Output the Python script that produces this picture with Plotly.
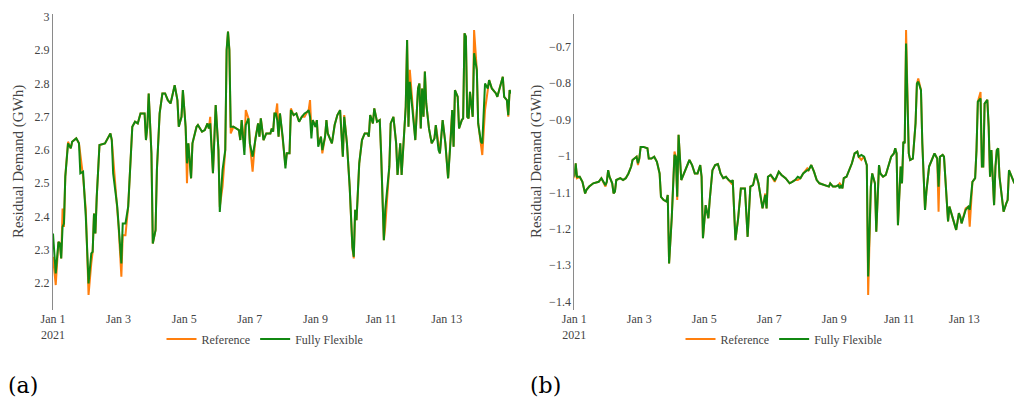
import pandas as pd
import plotly.graph_objects as go

# ---------------- Panel (a) data ----------------
hours_a = [0, 2, 4, 5, 6, 7, 8, 9, 11, 13, 14, 17, 19, 20, 22, 24, 26, 28, 29, 30, 31, 32, 34, 38, 40, 42, 43, 44,
           47, 48, 50, 51, 53, 55, 56, 58, 60, 62, 63, 64, 67, 68, 69, 70, 72, 73, 75, 76, 78, 80, 82, 84, 86, 89,
           91, 92, 94, 95, 97, 98, 99, 101, 102, 105, 106, 109, 111, 113, 114, 115, 117, 119, 121, 122, 124, 126,
           127, 128, 129, 130, 132, 134, 136, 137, 138, 140, 141, 143, 144, 146, 148, 150, 151, 152, 154, 156, 159,
           160, 161, 162, 163, 164, 165, 166, 168, 170, 171, 173, 174, 176, 178, 180, 182, 184, 186, 187, 188, 189,
           190, 192, 193, 194, 196, 197, 199, 200, 201, 204, 206, 208, 210, 212, 213, 215, 217, 219, 220, 221, 222,
           224, 226, 228, 230, 231, 232, 234, 235, 237, 239, 240, 242, 243, 246, 247, 249, 251, 252, 254, 255, 257,
           258, 259, 260, 261, 263, 265, 267, 268, 269, 270, 271, 272, 273, 275, 277, 279, 280, 282, 283, 285, 287,
           289, 291, 292, 293, 294, 296, 297, 299, 300, 301, 302, 303, 304, 305, 307, 308, 310, 311, 313, 314, 316,
           318, 319, 321, 324, 325, 327, 329, 330, 332, 333, 334, 335]

flex_a = [2.349, 2.229, 2.324, 2.319, 2.274, 2.369, 2.379, 2.520, 2.620, 2.605, 2.625, 2.635, 2.620, 2.530, 2.535,
          2.399, 2.199, 2.289, 2.294, 2.409, 2.349, 2.460, 2.615, 2.620, 2.635, 2.650, 2.630, 2.530, 2.430, 2.369,
          2.259, 2.379, 2.379, 2.430, 2.510, 2.670, 2.685, 2.680, 2.695, 2.710, 2.710, 2.630, 2.670, 2.770, 2.590,
          2.319, 2.359, 2.540, 2.710, 2.770, 2.770, 2.750, 2.740, 2.795, 2.750, 2.670, 2.700, 2.780, 2.670, 2.560,
          2.620, 2.515, 2.620, 2.670, 2.675, 2.655, 2.660, 2.680, 2.665, 2.680, 2.530, 2.735, 2.600, 2.414, 2.540,
          2.600, 2.901, 2.956, 2.901, 2.670, 2.670, 2.665, 2.660, 2.630, 2.690, 2.585, 2.675, 2.695, 2.620, 2.580,
          2.635, 2.680, 2.640, 2.695, 2.630, 2.650, 2.650, 2.665, 2.655, 2.710, 2.710, 2.690, 2.640, 2.710, 2.640,
          2.545, 2.590, 2.590, 2.720, 2.705, 2.710, 2.685, 2.700, 2.710, 2.715, 2.720, 2.700, 2.635, 2.690, 2.670,
          2.690, 2.610, 2.640, 2.600, 2.640, 2.690, 2.650, 2.620, 2.675, 2.705, 2.720, 2.580, 2.700, 2.620, 2.490,
          2.309, 2.279, 2.420, 2.389, 2.560, 2.630, 2.650, 2.650, 2.640, 2.705, 2.680, 2.725, 2.685, 2.690, 2.590,
          2.329, 2.420, 2.550, 2.680, 2.700, 2.620, 2.525, 2.620, 2.525, 2.660, 2.730, 2.931, 2.670, 2.805, 2.720,
          2.630, 2.785, 2.800, 2.665, 2.785, 2.700, 2.836, 2.740, 2.665, 2.620, 2.635, 2.675, 2.600, 2.590, 2.690,
          2.620, 2.515, 2.640, 2.720, 2.610, 2.780, 2.760, 2.665, 2.690, 2.695, 2.951, 2.941, 2.700, 2.695, 2.775,
          2.700, 2.891, 2.841, 2.680, 2.625, 2.620, 2.800, 2.785, 2.810, 2.785, 2.770, 2.760, 2.790, 2.820, 2.760,
          2.750, 2.705, 2.780, 2.770]

ref_a = [2.279, 2.194, 2.324, 2.319, 2.274, 2.424, 2.369, 2.520, 2.625, 2.605, 2.625, 2.635, 2.620, 2.590, 2.520,
         2.420, 2.164, 2.259, 2.294, 2.409, 2.349, 2.460, 2.615, 2.620, 2.635, 2.650, 2.630, 2.580, 2.430, 2.369,
         2.219, 2.344, 2.344, 2.430, 2.510, 2.670, 2.685, 2.680, 2.695, 2.710, 2.710, 2.630, 2.670, 2.770, 2.590,
         2.319, 2.359, 2.540, 2.710, 2.770, 2.770, 2.750, 2.740, 2.795, 2.750, 2.670, 2.700, 2.780, 2.670, 2.500,
         2.620, 2.515, 2.620, 2.670, 2.675, 2.655, 2.660, 2.680, 2.665, 2.700, 2.530, 2.735, 2.600, 2.429, 2.490,
         2.600, 2.901, 2.956, 2.901, 2.650, 2.670, 2.665, 2.660, 2.630, 2.690, 2.610, 2.720, 2.695, 2.620, 2.535,
         2.635, 2.680, 2.640, 2.695, 2.630, 2.650, 2.650, 2.665, 2.655, 2.710, 2.710, 2.740, 2.640, 2.710, 2.640,
         2.555, 2.590, 2.590, 2.725, 2.705, 2.710, 2.685, 2.700, 2.700, 2.715, 2.720, 2.750, 2.660, 2.690, 2.670,
         2.690, 2.620, 2.640, 2.590, 2.640, 2.690, 2.650, 2.620, 2.675, 2.705, 2.720, 2.580, 2.705, 2.620, 2.490,
         2.304, 2.274, 2.420, 2.389, 2.560, 2.630, 2.650, 2.650, 2.640, 2.705, 2.680, 2.725, 2.685, 2.690, 2.590,
         2.329, 2.369, 2.550, 2.680, 2.700, 2.620, 2.525, 2.620, 2.525, 2.660, 2.730, 2.931, 2.670, 2.841, 2.720,
         2.630, 2.785, 2.800, 2.665, 2.785, 2.700, 2.836, 2.740, 2.665, 2.620, 2.635, 2.675, 2.620, 2.590, 2.690,
         2.620, 2.515, 2.640, 2.720, 2.610, 2.780, 2.760, 2.665, 2.690, 2.695, 2.951, 2.941, 2.700, 2.695, 2.775,
         2.700, 2.961, 2.841, 2.680, 2.625, 2.585, 2.720, 2.785, 2.810, 2.785, 2.770, 2.760, 2.790, 2.820, 2.760,
         2.750, 2.700, 2.780, 2.770]

# ---------------- Panel (b) data ----------------
hours_b = [0, 1, 2, 4, 6, 8, 9, 11, 14, 18, 20, 23, 24, 25, 26, 28, 29, 30, 31, 34, 36, 38, 40, 42, 43, 46, 47, 48,
           49, 51, 54, 55, 57, 59, 61, 63, 64, 66, 68, 69, 70, 72, 74, 75, 76, 77, 79, 81, 83, 85, 87, 89, 91, 93,
           94, 95, 97, 99, 100, 102, 104, 106, 107, 108, 110, 112, 114, 116, 117, 119, 121, 123, 126, 128, 130,
           132, 134, 136, 138, 139, 141, 142, 143, 145, 148, 149, 151, 153, 156, 159, 161, 163, 165, 167, 169, 172,
           173, 175, 177, 179, 181, 185, 188, 189, 191, 193, 195, 196, 197, 198, 199, 201, 203, 205, 207, 209, 210,
           212, 214, 215, 216, 217, 219, 220, 222, 223, 225, 226, 228, 230, 232, 234, 236, 237, 238, 239, 241, 242,
           243, 244, 245, 247, 248, 250, 252, 253, 254, 256, 257, 259, 260, 262, 264, 266, 268, 269, 270, 272, 273,
           275, 276, 277, 279, 280, 282, 284, 285, 286, 288, 289, 291, 292, 294, 296, 297, 298, 300, 301, 302, 303,
           305, 306, 307, 308, 310, 311, 312, 313, 314, 316, 317, 319, 320, 321, 323, 324, 325]

flex_b = [-1.057, -1.020, -1.057, -1.057, -1.071, -1.103, -1.093, -1.084, -1.075, -1.071, -1.061, -1.080, -1.071,
          -1.039, -1.057, -1.075, -1.103, -1.098, -1.066, -1.061, -1.066, -1.061, -1.048, -1.029, -1.011, -1.002,
          -1.020, -1.007, -0.975, -0.975, -0.979, -1.007, -1.007, -1.002, -1.016, -1.048, -1.112, -1.121, -1.125,
          -1.107, -1.295, -1.167, -0.997, -1.002, -1.112, -0.942, -1.066, -1.048, -1.025, -1.011, -1.025, -1.048,
          -1.048, -1.025, -1.057, -1.226, -1.135, -1.171, -1.121, -1.039, -1.025, -1.022, -1.034, -1.048, -1.061,
          -1.057, -1.066, -1.071, -1.066, -1.231, -1.171, -1.089, -1.089, -1.222, -1.084, -1.080, -1.048, -1.075,
          -1.121, -1.144, -1.107, -1.144, -1.057, -1.052, -1.066, -1.061, -1.043, -1.052, -1.061, -1.075, -1.071,
          -1.066, -1.057, -1.061, -1.048, -1.039, -1.039, -1.025, -1.043, -1.066, -1.075, -1.080, -1.084, -1.075,
          -1.084, -1.084, -1.080, -1.089, -1.080, -1.089, -1.061, -1.057, -1.039, -1.020, -0.993, -0.988, -1.002,
          -0.997, -1.002, -1.011, -1.025, -1.331, -1.084, -1.048, -1.075, -1.208, -1.025, -1.048, -1.057, -1.052,
          -1.029, -1.002, -0.993, -0.979, -0.993, -1.190, -1.029, -1.075, -0.961, -0.965, -0.691, -0.993, -1.011,
          -1.007, -0.910, -0.801, -0.796, -0.819, -0.965, -1.148, -1.098, -1.029, -1.011, -0.993, -1.007, -1.084,
          -1.002, -0.997, -1.002, -1.112, -1.180, -1.139, -1.162, -1.176, -1.203, -1.157, -1.167, -1.185, -1.157,
          -1.148, -1.139, -1.148, -1.071, -1.061, -0.984, -0.851, -0.842, -1.029, -1.029, -0.856, -0.846, -0.920,
          -1.057, -0.984, -1.135, -1.029, -0.984, -0.979, -1.057, -1.130, -1.153, -1.130, -1.121, -1.039, -1.057,
          -1.071, -1.075]

ref_b = [-1.061, -1.020, -1.061, -1.057, -1.071, -1.103, -1.093, -1.084, -1.075, -1.071, -1.061, -1.084, -1.071,
         -1.039, -1.057, -1.075, -1.103, -1.098, -1.066, -1.061, -1.066, -1.061, -1.048, -1.029, -1.011, -1.002,
         -1.025, -1.007, -0.975, -0.975, -0.979, -1.007, -1.007, -1.002, -1.016, -1.048, -1.112, -1.121, -1.125,
         -1.107, -1.295, -1.167, -0.988, -1.002, -1.121, -0.942, -1.066, -1.048, -1.025, -1.011, -1.025, -1.048,
         -1.048, -1.025, -1.057, -1.226, -1.135, -1.171, -1.121, -1.039, -1.025, -1.022, -1.034, -1.048, -1.061,
         -1.057, -1.066, -1.075, -1.066, -1.231, -1.171, -1.089, -1.089, -1.222, -1.084, -1.080, -1.048, -1.075,
         -1.121, -1.144, -1.103, -1.144, -1.057, -1.052, -1.071, -1.061, -1.043, -1.052, -1.061, -1.075, -1.071,
         -1.066, -1.066, -1.061, -1.048, -1.034, -1.039, -1.025, -1.043, -1.066, -1.075, -1.080, -1.084, -1.075,
         -1.084, -1.084, -1.080, -1.075, -1.080, -1.089, -1.061, -1.057, -1.039, -1.020, -0.993, -0.988, -1.002,
         -1.011, -1.002, -1.011, -1.025, -1.382, -1.084, -1.048, -1.075, -1.208, -1.025, -1.048, -1.057, -1.052,
         -1.029, -1.002, -0.993, -0.979, -0.993, -1.190, -1.029, -1.075, -0.961, -0.965, -0.654, -0.993, -1.011,
         -1.007, -0.910, -0.801, -0.787, -0.819, -0.965, -1.148, -1.098, -1.029, -1.011, -0.993, -1.007, -1.153,
         -1.002, -0.997, -1.002, -1.112, -1.180, -1.139, -1.162, -1.176, -1.203, -1.157, -1.167, -1.185, -1.157,
         -1.144, -1.139, -1.194, -1.071, -1.061, -0.984, -0.851, -0.824, -1.029, -1.029, -0.856, -0.846, -0.920,
         -1.057, -0.984, -1.135, -1.029, -0.984, -0.979, -1.057, -1.130, -1.153, -1.130, -1.121, -1.039, -1.057,
         -1.071, -1.075]

series_names = ["Reference", "Fully Flexible"]
series_colors = ["#ff7f0e", "#118811"]
y_title = "Residual Demand (GWh)"
panel_labels = ["(a)", "(b)"]

start = pd.Timestamp("2021-01-01")
x_a = [start + pd.Timedelta(hours=h) for h in hours_a]
x_b = [start + pd.Timedelta(hours=h) for h in hours_b]

W, H = 1014, 404
SERIF = "Liberation Serif, Times New Roman, serif"
TICKFONT = dict(family=SERIF, size=12, color="#444")

fig = go.Figure()
for name, color, ya in zip(series_names, series_colors, [ref_a, flex_a]):
    fig.add_trace(go.Scatter(x=x_a, y=ya, mode="lines", name=name,
                             line=dict(color=color, width=2), xaxis="x", yaxis="y", legend="legend"))
for name, color, yb in zip(series_names, series_colors, [ref_b, flex_b]):
    fig.add_trace(go.Scatter(x=x_b, y=yb, mode="lines", name=name,
                             line=dict(color=color, width=2), xaxis="x2", yaxis="y2", legend="legend2"))

ydom = [1 - 310 / H, 1 - 14 / H]
common_x = dict(showgrid=False, zeroline=False, showline=False, ticks="", automargin=False,
                tickfont=TICKFONT, dtick=2 * 86400000, tick0="2021-01-01")
common_y = dict(showgrid=False, zeroline=False, showline=True, linecolor="#8a8a8a", linewidth=1,
                ticks="", automargin=False, tickfont=TICKFONT, dtick=0.1)

fig.update_layout(
    width=W, height=H,
    margin=dict(l=0, r=0, t=0, b=0, autoexpand=False),
    paper_bgcolor="white", plot_bgcolor="white",
    xaxis=dict(common_x, domain=[53 / W, 511 / W], anchor="y",
               range=[start, start + pd.Timedelta(hours=335)]),
    yaxis=dict(common_y, domain=ydom, anchor="x", range=[2.119, 3.009]),
    xaxis2=dict(common_x, domain=[574.3 / W, 1.0], anchor="y2",
                range=[start, start + pd.Timedelta(hours=324.7)]),
    yaxis2=dict(common_y, domain=ydom, anchor="x2", range=[-1.423, -0.610]),
    legend=dict(orientation="h", x=265 / W, xanchor="center", y=1 - 339 / H, yanchor="middle",
                font=dict(family=SERIF, size=12, color="#444"), bgcolor="rgba(0,0,0,0)"),
    legend2=dict(orientation="h", x=784 / W, xanchor="center", y=1 - 339 / H, yanchor="middle",
                 font=dict(family=SERIF, size=12, color="#444"), bgcolor="rgba(0,0,0,0)"),
    showlegend=True,
)

# y-axis titles and panel captions
for xc, lbl_x, lbl in [(18 / W, 6 / W, panel_labels[0]), (536 / W, 528 / W, panel_labels[1])]:
    fig.add_annotation(text=y_title, textangle=-90, x=xc, y=1 - 162 / H, xref="paper", yref="paper",
                       xanchor="center", yanchor="middle", showarrow=False,
                       font=dict(family=SERIF, size=15, color="#444"))
    fig.add_annotation(text=lbl, x=lbl_x, y=1 - 385 / H, xref="paper", yref="paper",
                       xanchor="left", yanchor="middle", showarrow=False,
                       font=dict(family="DejaVu Serif, serif", size=22, color="black"))

fig.write_html("out.html", config={"displayModeBar": False},
               post_script="document.body.style.margin='0px';document.body.style.overflow='hidden';")
